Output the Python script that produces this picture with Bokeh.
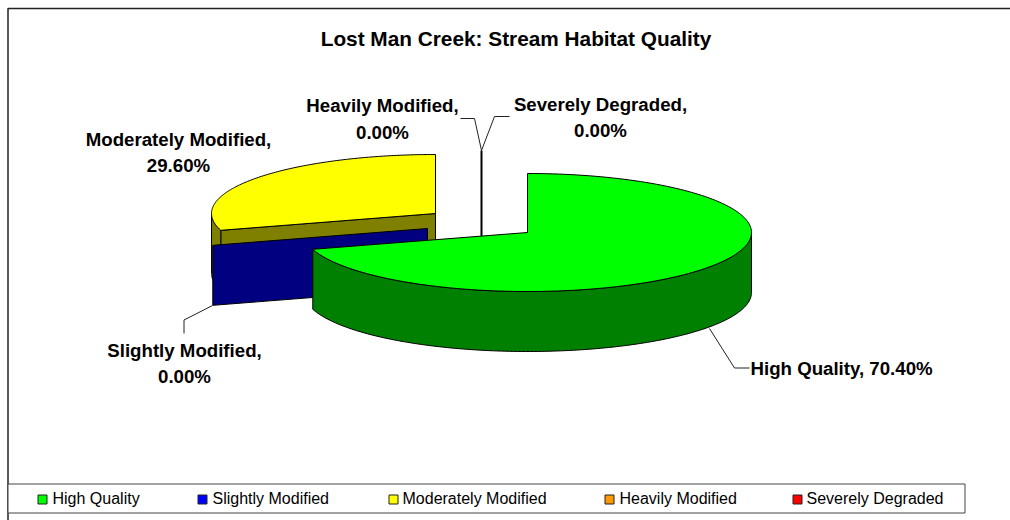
import numpy as np
from bokeh.plotting import figure
from bokeh.embed import file_html
from bokeh.resources import INLINE
from bokeh.core.properties import value

TITLE = "Lost Man Creek: Stream Habitat Quality"
categories = ["High Quality", "Slightly Modified", "Moderately Modified", "Heavily Modified", "Severely Degraded"]
percent = [70.40, 0.00, 29.60, 0.00, 0.00]
top_colors = ["#00FF00", "#0000FF", "#FFFF00", "#FF9900", "#FF0000"]
side_colors = ["#008000", "#000080", "#808000", "#804C00", "#800000"]

FONT = value("Liberation Sans")
RX, RY, DEPTH = 224, 59, 60
centers = [(527, 232), (427, 228), (435, 213), (481, 209), (481, 209)]

p = figure(width=1010, height=520, output_backend="svg", toolbar_location=None,
           x_range=(0, 1010), y_range=(520, 0), min_border=0,
           outline_line_color=None, background_fill_color="white", border_fill_color="white")
p.axis.visible = False
p.grid.visible = False

# slice angles, clockwise from twelve o'clock
fractions = np.array(percent) / sum(percent)
ends = np.cumsum(fractions) * 2 * np.pi
starts = ends - fractions * 2 * np.pi


def rim(c, a0, a1, n=160):
    t = np.linspace(a0, a1, n)
    return c[0] + RX * np.sin(t), c[1] - RY * np.cos(t)


def wall(i, a0, a1):
    x, y = rim(centers[i], a0, a1)
    xs = np.concatenate([x, x[::-1]])
    ys = np.concatenate([y, y[::-1] + DEPTH])
    p.patch(xs, ys, fill_color=side_colors[i], line_color="black", line_width=1)


def cut_face(i, angle, fill=None):
    cx, cy = centers[i]
    x, y = rim(centers[i], angle, angle, 1)
    p.patch([cx, x[0], x[0], cx], [cy, y[0], y[0] + DEPTH, cy + DEPTH],
            fill_color=fill or side_colors[i], line_color="black", line_width=1)


def top(i):
    cx, cy = centers[i]
    x, y = rim(centers[i], starts[i], ends[i])
    p.patch(np.r_[cx, x], np.r_[cy, y], fill_color=top_colors[i], line_color="black", line_width=1)


# Moderately Modified
cut_face(2, starts[2])
wall(2, starts[2], 1.5 * np.pi)
top(2)

# Slightly Modified: a zero-width slice leaves only its cut face
cut_face(1, starts[1])

# Heavily Modified / Severely Degraded: edge-on zero-width slices
hx = centers[3][0] + RX * np.sin(ends[3])
hy = centers[3][1] - RY * np.cos(ends[3])
p.line([hx, hx], [hy, hy + 2 * RY], line_color="black", line_width=2)

# High Quality
wall(0, 0.5 * np.pi, ends[0])
top(0)

# leader lines
leaders = [
    ([709, 734, 749], [328, 367.5, 367.5]),
    ([212, 183.5, 183.5], [305, 319.5, 333]),
    ([460, 474, 481], [118, 118, 150]),
    ([509, 494, 481], [116, 116, 150]),
]
for lx, ly in leaders:
    p.line(lx, ly, line_color="#222222", line_width=1)

# labels
def label(i, x, y, one_line=False):
    txt = f"{categories[i]}, {percent[i]:.2f}%" if one_line else f"{categories[i]},\n{percent[i]:.2f}%"
    p.text([x], [y], text=[txt], text_font=FONT, text_font_size="18.67px", text_font_style="bold",
           text_color="black", text_align="left" if one_line else "center", text_baseline="middle",
           text_line_height=1.25)

label(0, 750, 368, one_line=True)
label(1, 184, 363)
label(2, 178, 152)
label(3, 382, 118.5)
label(4, 600, 117)

p.text([515.5], [38], text=[TITLE], text_font=FONT, text_font_size="20.8px", text_font_style="bold",
       text_color="black", text_align="center", text_baseline="middle")

# outer frame and legend
p.line([7.5, 7.5, 1010], [520, 8, 8], line_color="#222222", line_width=1.5)
p.patch([7.5, 964.5, 964.5, 7.5], [483.5, 483.5, 512.5, 512.5], fill_color="white",
        line_color="#444444", line_width=1)
swatch_x = [37, 197, 388, 604, 792]
text_x = [52, 212, 402, 619, 806]
for sx, tx, name, col in zip(swatch_x, text_x, categories, top_colors):
    p.patch([sx + .5, sx + 9.5, sx + 9.5, sx + .5], [494.5, 494.5, 503.5, 503.5],
            fill_color=col, line_color="#222222", line_width=1)
    p.text([tx], [497.5], text=[name], text_font=FONT, text_font_size="16px", text_color="black",
           text_align="left", text_baseline="middle")

open("out.html", "w").write(file_html(p, INLINE))
